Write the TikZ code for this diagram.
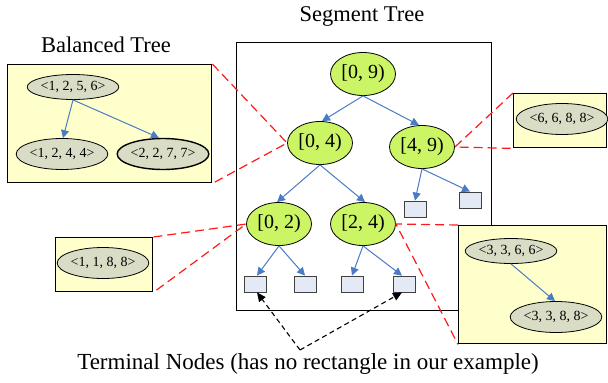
\documentclass[tikz,border=0pt]{standalone}
\usepackage{fontspec}
\setmainfont{Liberation Serif}
\usetikzlibrary{shapes.geometric,arrows.meta}

\definecolor{panelYellow}{HTML}{FFFFCC}
\definecolor{keyGray}{HTML}{D9DDC6}
\definecolor{segGreen}{HTML}{CCF566}
\definecolor{leafBlue}{HTML}{E3EAF5}
\definecolor{treeBlue}{HTML}{4A7CC6}
\definecolor{zoomRed}{HTML}{FF1A1A}

\tikzset{
  seg/.style={ellipse, draw=black, line width=0.8pt, fill=segGreen,
    minimum width=65pt, minimum height=43pt, inner sep=0pt,
    font=\fontsize{20}{20}\selectfont},
  key/.style={ellipse, draw=black, line width=0.8pt, fill=keyGray,
    minimum width=87pt, minimum height=31pt, inner sep=0pt,
    font=\fontsize{14}{14}\selectfont},
  keytop/.style={key, minimum height=25pt},
  leafbox/.style={rectangle, draw=black!75, line width=0.8pt, fill=leafBlue,
    minimum width=22pt, minimum height=16pt, inner sep=0pt},
  panel/.style={rectangle, draw=black, line width=1.4pt, fill=panelYellow,
    anchor=north west, inner sep=0pt},
  frame/.style={rectangle, draw=black, line width=1.4pt, fill=white,
    anchor=north west, inner sep=0pt},
  tree/.style={-{Triangle[length=8pt,width=8pt]}, draw=treeBlue, line width=1pt},
  zoomline/.style={draw=zoomRed, dash pattern=on 9pt off 5pt, line width=1.2pt},
  pointer/.style={-{Triangle[length=9pt,width=8pt]}, draw=black,
    dash pattern=on 5pt off 3.5pt, line width=1.1pt},
  title/.style={font=\fontsize{22.5}{22.5}\selectfont},
}

\begin{document}
\begin{tikzpicture}[x=1pt,y=-1pt]
\useasboundingbox (0,0) rectangle (608,383);

% titles
\node[title] (segTitle) at (362,16) {Segment Tree};
\node[title] (balTitle) at (106,45) {Balanced Tree};

% segment tree frame
\node[frame, minimum width=255pt, minimum height=268pt] (frame) at (236,42) {};

% segment tree nodes
\node[seg] (r)   at (363,74)  {[0, 9)};
\node[seg] (a)   at (320,143) {[0, 4)};
\node[seg] (b)   at (422,147) {[4, 9)};
\node[seg] (c)   at (279,224) {[0, 2)};
\node[seg] (d)   at (363,224) {[2, 4)};

\node[leafbox] (s1) at (255,284) {};
\node[leafbox] (s2) at (305,284) {};
\node[leafbox] (s3) at (352,284) {};
\node[leafbox] (s4) at (404,284) {};
\node[leafbox] (s5) at (415,209) {};
\node[leafbox] (s6) at (470,200) {};

\draw[tree] (r.south) -- ([xshift=2pt]a.north);
\draw[tree] (r.south) -- ([xshift=-3pt]b.north);
\draw[tree] (a.south) -- ([xshift=-2pt]c.north);
\draw[tree] (a.south) -- ([xshift=2pt]d.north);
\draw[tree] (b.south) -- (s5.north);
\draw[tree] (b.south) -- (s6.north);
\draw[tree] (c.south) -- ([xshift=2pt]s1.north);
\draw[tree] (c.south) -- (s2.north);
\draw[tree] (d.south) -- (s3.north);
\draw[tree] (d.south) -- ([xshift=-2pt]s4.north);

% balanced-tree panels
\node[panel, minimum width=204pt, minimum height=118pt] (pA) at (7,64) {};
\node[keytop] (k1) at (73,87)  {<1, 2, 5, 6>};
\node[key]    (k2) at (62,154) {<1, 2, 4, 4>};
\node[key, line width=1.4pt] (k3) at (163,154) {<2, 2, 7, 7>};
\draw[tree] (k1.south) -- ([xshift=1pt]k2.north);
\draw[tree] (k1.south) -- ([xshift=-4pt]k3.north);

\node[panel, minimum width=97pt, minimum height=54pt] (pB) at (55,237) {};
\node[key] (k4) at (103,263) {<1, 1, 8, 8>};

\node[panel, minimum width=93pt, minimum height=54pt] (pC) at (513,93) {};
\node[key] (k5) at (562,119) {<6, 6, 8, 8>};

\node[panel, minimum width=148pt, minimum height=118pt] (pD) at (458,225) {};
\node[keytop] (k6) at (511,251) {<3, 3, 6, 6>};
\node[key]    (k7) at (556,317) {<3, 3, 8, 8>};
\draw[tree] (k6.south) -- ([xshift=-1pt]k7.north);

% zoom lines from tree nodes to their panels
\draw[zoomline] (pA.north east) -- (a.west) -- (pA.south east);
\draw[zoomline] (pB.north east) -- (c.west) -- (pB.south east);
\draw[zoomline] (pC.north west) -- (b.east) -- (pC.south west);
\draw[zoomline] (pD.north west) -- (d.east) -- (pD.south west);

% terminal nodes label
\node[font=\fontsize{23}{23}\selectfont] (term) at (308,364)
  {Terminal Nodes (has no rectangle in our example)};
\coordinate (fork) at (300,350);
\draw[pointer] (fork) -- ([xshift=2pt]s1.south);
\draw[pointer] (fork) -- ([xshift=-2pt]s4.south);
\end{tikzpicture}
\end{document}
